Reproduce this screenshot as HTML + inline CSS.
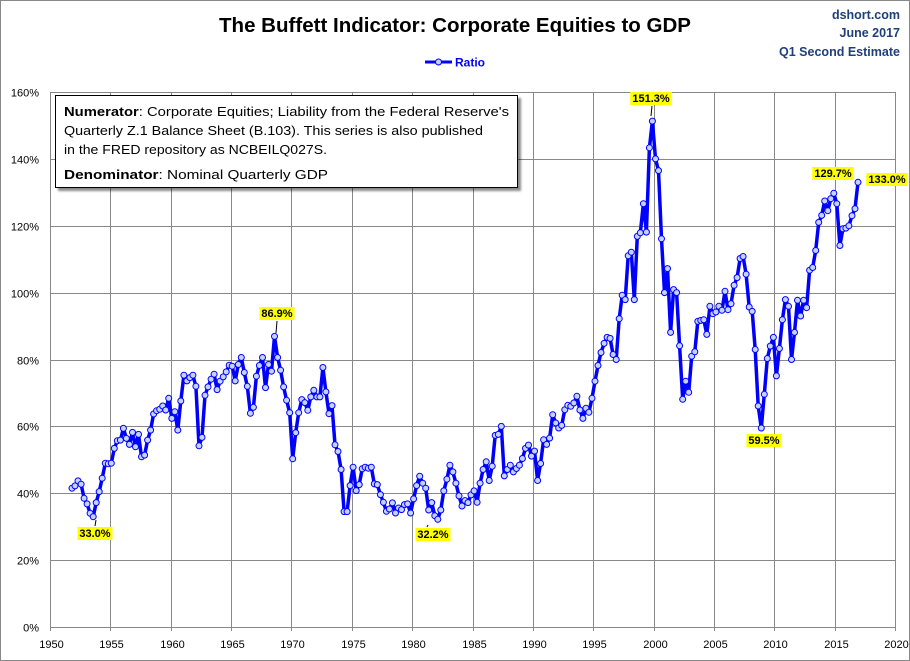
<!DOCTYPE html>
<html><head><meta charset="utf-8"><style>
html,body{margin:0;padding:0;background:#fff}
svg{display:block;font-family:"Liberation Sans",sans-serif}
text,tspan{font-family:"Liberation Sans",sans-serif}
</style></head><body>
<svg id="s" width="910" height="661" viewBox="0 0 910 661" xmlns="http://www.w3.org/2000/svg" font-family="Liberation Sans, sans-serif">
<rect x="0.5" y="0.5" width="909" height="660" fill="#fff" stroke="#888"/>
<g id="grid" stroke="#888" stroke-width="1"></g>
<g id="ylab" font-size="11" fill="#000" text-anchor="end"></g>
<g id="xlab" font-size="11" fill="#000" text-anchor="middle"></g>
<text x="455" y="32" text-anchor="middle" font-size="20" font-weight="bold" textLength="472" lengthAdjust="spacingAndGlyphs">The Buffett Indicator: Corporate Equities to GDP</text>
<g font-size="12.5" font-weight="bold" fill="#1f3f7a" text-anchor="end">
<text x="900" y="19">dshort.com</text>
<text x="900" y="37">June 2017</text>
<text x="900" y="56" textLength="121" lengthAdjust="spacingAndGlyphs">Q1 Second Estimate</text>
</g>
<line x1="425" y1="62" x2="452" y2="62" stroke="#0000ff" stroke-width="3"/>
<circle cx="438.5" cy="62" r="3" fill="#c5d3fb" stroke="#0000ff" stroke-width="1"/>
<text x="455" y="66.5" font-size="12" font-weight="bold" fill="#0000ff">Ratio</text>
<g id="series"></g>
<g id="labels"></g>
<rect x="55.5" y="95.5" width="462" height="92" fill="#fff" stroke="#000" stroke-width="1" style="filter:drop-shadow(3px 3px 1px rgba(0,0,0,0.45))"/>
<g font-size="13" fill="#000" font-family="Liberation Sans, sans-serif">
<text x="64" y="116" textLength="445" lengthAdjust="spacingAndGlyphs"><tspan font-weight="bold">Numerator</tspan>: Corporate Equities; Liability from the Federal Reserve's</text>
<text x="64" y="135" textLength="419" lengthAdjust="spacingAndGlyphs">Quarterly Z.1 Balance Sheet (B.103). This series is also published</text>
<text x="64" y="154" textLength="263" lengthAdjust="spacingAndGlyphs">in the FRED repository  as NCBEILQ027S.</text>
<text x="64" y="179" textLength="264" lengthAdjust="spacingAndGlyphs"><tspan font-weight="bold">Denominator</tspan>: Nominal Quarterly GDP</text>
</g>
</svg>
<script>
var NS="http://www.w3.org/2000/svg";
function el(t,a,p,txt){var e=document.createElementNS(NS,t);for(var k in a)e.setAttribute(k,a[k]);if(txt!=null)e.textContent=txt;document.getElementById(p).appendChild(e);return e;}
var X0=50,X1=895,Y0=627,YT=92;
function xy(yr){return X0+(yr-1950)*(X1-X0)/70;}
function yv(v){return Y0-v*(Y0-YT)/160;}
for(var i=0;i<=8;i++){var y=Math.round(yv(i*20))+0.5;el('line',{x1:X0,y1:y,x2:X1,y2:y},'grid');el('text',{x:39,y:y+4},'ylab',(i*20)+'%');}
for(var i=0;i<=14;i++){var x=Math.round(xy(1950+i*5))+0.5;el('line',{x1:x,y1:YT,x2:x,y2:Y0+4},'grid');el('text',{x:x+1,y:648},'xlab',1950+i*5);}
var d=[41.5,42.2,43.7,42.7,38.5,36.8,34,33.0,37.2,40.5,44.5,49,48.8,49,53.4,55.7,55.9,59.4,56.4,54.6,58.2,53.9,57.6,50.9,51.4,55.9,58.9,63.7,64.7,65.1,66.1,64.9,68.4,62.4,64.4,58.9,67.6,75.3,73.6,74.6,75.3,72,54.2,56.7,69.3,71.8,74.1,75.6,71,73.5,74.8,76.3,78.3,78,73.6,78.5,80.6,76.1,72,63.9,65.7,
75,78.2,80.6,71.6,78.5,76.5,86.9,80.6,76.8,71.8,67.8,64.1,50.3,58.1,64.1,68,67.1,64.8,68.8,70.8,68.8,68.8,77.6,70.3,63.8,66.2,54.5,52.5,47.1,34.5,34.5,42.3,47.8,40.8,42.6,47.3,47.8,47.5,47.8,42.8,42.6,39.6,37.3,34.6,35.3,37.1,34.1,35.6,35.1,36.6,36.8,34.1,38.3,42.3,45.1,43,
41.5,35,37.2,33.3,32.2,35,40.7,44.2,48.4,46.4,43,39.2,36.2,37.8,37.2,39.5,40.7,37.3,43,47.1,49.4,43.8,48.1,57.3,57.6,60,45.2,47.1,48.4,46.4,47.4,48.4,50.4,53.4,54.4,51.1,52.6,43.8,48.9,56,54.6,56.5,63.5,61,59.5,60.3,65,66.3,66,67,69,
64.9,62.4,65.4,64.2,68.4,73.5,78.2,82.1,84.8,86.6,86.3,81.5,80,92.2,99.2,97.9,111,112.1,97.9,116.8,117.9,126.6,118.1,143.3,151.3,140,136.5,116.1,100,107.2,88.1,100.9,100,84.1,68.1,73.5,70.2,81,82.3,91.4,91.7,91.9,87.5,95.9,93.7,94.2,95.9,94.7,100.4,94.9,96.7,102.2,104.5,110.2,110.8,105.5,95.7,94.4,83,66.1,59.5,69.6,80.3,84,86.6,75.1,83.3,91.9,97.9,95.9,80,88.1,97.7,93,97.7,95.5,106.7,107.5,112.6,
121,123.1,127.4,124.5,128.1,129.7,126.6,114.1,119.1,119.3,120,123,125.1,133];
var n=d.length,xs=72,xe=858,pts=[];
for(var i=0;i<n;i++){pts.push([xs+(xe-xs)*i/(n-1),yv(d[i])]);}
el('polyline',{points:pts.map(function(p){return p[0].toFixed(1)+','+p[1].toFixed(1)}).join(' '),fill:'none',stroke:'#0000ff','stroke-width':3.5,'stroke-linejoin':'round'},'series');
pts.forEach(function(p){el('circle',{cx:p[0].toFixed(1),cy:p[1].toFixed(1),r:3,fill:'#c5d3fb',stroke:'#0000ff','stroke-width':1},'series');});
var labs=[["33.0%",95,537,95,520],["86.9%",277,317,277,333],["32.2%",433,538,427,525],["151.3%",651,102,652,116],["59.5%",764,444,null],["129.7%",833,177,null],["133.0%",887,183,null]];
labs.forEach(function(l){
 var w=l[0].length*6.6+2;
 el('rect',{x:l[1]-w/2,y:l[2]-10,width:w,height:13,fill:'#ffff00'},'labels');
 el('text',{x:l[1],y:l[2],'text-anchor':'middle','font-size':11,'font-weight':'bold',fill:'#000'},'labels',l[0]);
 if(l[3]!=null)el('line',{x1:l[3],y1:l[2]+(l[4]>l[2]?4:-11),x2:l[3]+(l[4]>l[2]?-1:1),y2:l[4],stroke:'#000','stroke-width':1},'labels');
});
</script>
</body></html>
